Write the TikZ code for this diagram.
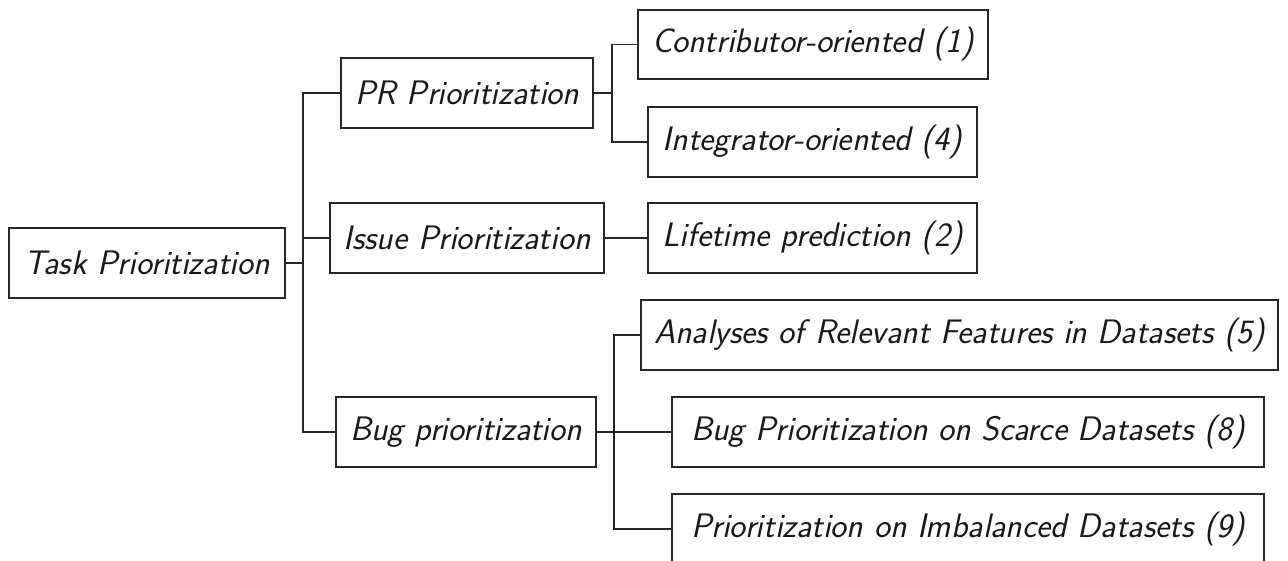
\documentclass[tikz,border=0pt]{standalone}
\usepackage{fontspec}
\begin{document}
\begin{tikzpicture}[x=0.5pt,y=-0.5pt,
  box/.style={draw=black!85,line width=0.9pt,inner sep=0pt,
    font=\fontsize{17}{20}\selectfont\sffamily\itshape,text=black!90},
  link/.style={draw=black!85,line width=0.9pt}]
\useasboundingbox (0,0) rectangle (1288,561);
\fill[white] (0,0) rectangle (1288,561);
\newcommand{\bx}[6]{\node[box,minimum width=#4*0.5pt,minimum height=#5*0.5pt] (#1) at (#2,#3) {#6};}
\bx{task}{147}{263}{276}{70}{Task Prioritization}
\bx{pr}{467}{93}{252}{70}{PR Prioritization}
\bx{issue}{467}{238}{274}{70}{Issue Prioritization}
\bx{bug}{466}{432}{260}{70}{Bug prioritization}
\bx{con}{813}{44.5}{350}{69}{Contributor-oriented (1)}
\bx{int}{812.5}{142}{329}{70}{Integrator-oriented (4)}
\bx{life}{812.5}{238}{329}{70}{Lifetime prediction (2)}
\bx{ana}{959.5}{335}{637}{70}{Analyses of Relevant Features in Datasets (5)}
\bx{scar}{968}{432}{592}{70}{Bug Prioritization on Scarce Datasets (8)}
\bx{imb}{968}{529}{592}{70}{Prioritization on Imbalanced Datasets (9)}
\coordinate (t1) at (303,0);
\coordinate (f1) at (612,0);
\coordinate (f2) at (614,0);
\draw[link] (task.east) -- (task.east -| t1);
\draw[link] (pr.west) -- (pr.west -| t1) |- (bug.west);
\draw[link] (issue.west) -- (issue.west -| t1);
\draw[link] (pr.east) -- (pr.east -| f1);
\draw[link] (con.west) -- (con.west -| f1) |- (int.west);
\draw[link] (issue.east) -- (life.west);
\draw[link] (bug.east) -- (scar.west);
\draw[link] (ana.west) -- (ana.west -| f2) |- (imb.west);
\end{tikzpicture}
\end{document}
